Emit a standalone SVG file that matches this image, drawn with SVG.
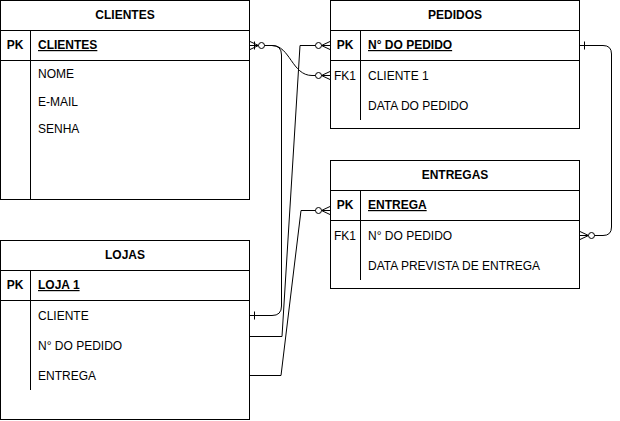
<svg xmlns="http://www.w3.org/2000/svg" width="620" height="421" viewBox="0 0 620 421">
<style>
.box{fill:#fff;stroke:#000;stroke-width:1}
.ln{stroke:#000;stroke-width:1;fill:none}
.t{font-family:"Liberation Sans",Arial,Helvetica,sans-serif;font-size:12px;fill:#000}
.b{font-weight:bold}
.u{text-decoration:underline}
.c{text-anchor:middle}
.e{stroke:#000;stroke-width:1;fill:none}
</style>
<defs>
<marker id="zmany" markerUnits="userSpaceOnUse" viewBox="-16 -8 17 16" refX="0" refY="0" markerWidth="17" markerHeight="16" orient="auto-start-reverse" overflow="visible">
<path d="M-8.5,0 L0,-4 M-8.5,0 L0,4 M-8.5,0 L0,0" fill="none" stroke="#000" stroke-width="1"/>
<circle cx="-11.5" cy="0" r="3" fill="#fff" stroke="#000" stroke-width="1"/>
</marker>
<marker id="one" markerUnits="userSpaceOnUse" viewBox="-8 -6 9 12" refX="0" refY="0" markerWidth="9" markerHeight="12" orient="auto-start-reverse" overflow="visible">
<path d="M-4.5,-4 L-4.5,4" fill="none" stroke="#000" stroke-width="1"/>
</marker>
</defs>

<g id="clientes">
<rect class="box" x="0.5" y="0.5" width="249" height="199"/>
<path class="ln" d="M0.5,30.5 H249.5 M0.5,60.5 H249.5 M30.5,30.5 V199.5"/>
<text class="t b c" x="125" y="19">CLIENTES</text>
<text class="t b c" x="15" y="49">PK</text>
<text class="t b u" x="38" y="49">CLIENTES</text>
<text class="t" x="38" y="78">NOME</text>
<text class="t" x="38" y="106">E-MAIL</text>
<text class="t" x="38" y="133">SENHA</text>
</g>

<g id="pedidos">
<rect class="box" x="330.5" y="0.5" width="249" height="128"/>
<path class="ln" d="M330.5,30.5 H579.5 M330.5,60.5 H579.5 M360.5,30.5 V120"/>
<text class="t b c" x="455" y="19">PEDIDOS</text>
<text class="t b c" x="345" y="49">PK</text>
<text class="t b u" x="368" y="49">N° DO PEDIDO</text>
<text class="t c" x="345" y="80">FK1</text>
<text class="t" x="368" y="80">CLIENTE 1</text>
<text class="t" x="368" y="110">DATA DO PEDIDO</text>
</g>

<g id="entregas">
<rect class="box" x="330.5" y="160.5" width="249" height="128"/>
<path class="ln" d="M330.5,190.5 H579.5 M330.5,220.5 H579.5 M360.5,190.5 V280"/>
<text class="t b c" x="455" y="179">ENTREGAS</text>
<text class="t b c" x="345" y="209">PK</text>
<text class="t b u" x="368" y="209">ENTREGA</text>
<text class="t c" x="345" y="240">FK1</text>
<text class="t" x="368" y="240">N° DO PEDIDO</text>
<text class="t" x="368" y="270">DATA PREVISTA DE ENTREGA</text>
</g>

<g id="lojas">
<rect class="box" x="0.5" y="240.5" width="249" height="179"/>
<path class="ln" d="M0.5,270.5 H249.5 M0.5,300.5 H249.5 M30.5,270.5 V390"/>
<text class="t b c" x="125" y="259">LOJAS</text>
<text class="t b c" x="15" y="289">PK</text>
<text class="t b u" x="38" y="289">LOJA 1</text>
<text class="t" x="38" y="320">CLIENTE</text>
<text class="t" x="38" y="350">N° DO PEDIDO</text>
<text class="t" x="38" y="380">ENTREGA</text>
</g>

<g id="connectors">
<path class="e" d="M250,45.5 L272,45.5 Q281.5,45.5 281.5,55 L281.5,306 Q281.5,315.5 272,315.5 L250,315.5" marker-start="url(#one)" marker-end="url(#one)"/>
<path class="e" d="M250,45.5 L272,45.5 C290,45.5 292,75.5 312,75.5 L330,75.5" marker-start="url(#zmany)" marker-end="url(#zmany)"/>
<path class="e" d="M250,336.5 L282,336.5 L300,45.5 L330,45.5" marker-end="url(#zmany)"/>
<path class="e" d="M250,375.5 L281,375.5 L301,210.5 L330,210.5" marker-end="url(#zmany)"/>
<path class="e" d="M580,45.5 L603,45.5 Q611.5,45.5 611.5,54 L611.5,227 Q611.5,235.5 603,235.5 L580,235.5" marker-start="url(#one)" marker-end="url(#zmany)"/>
</g>
</svg>
